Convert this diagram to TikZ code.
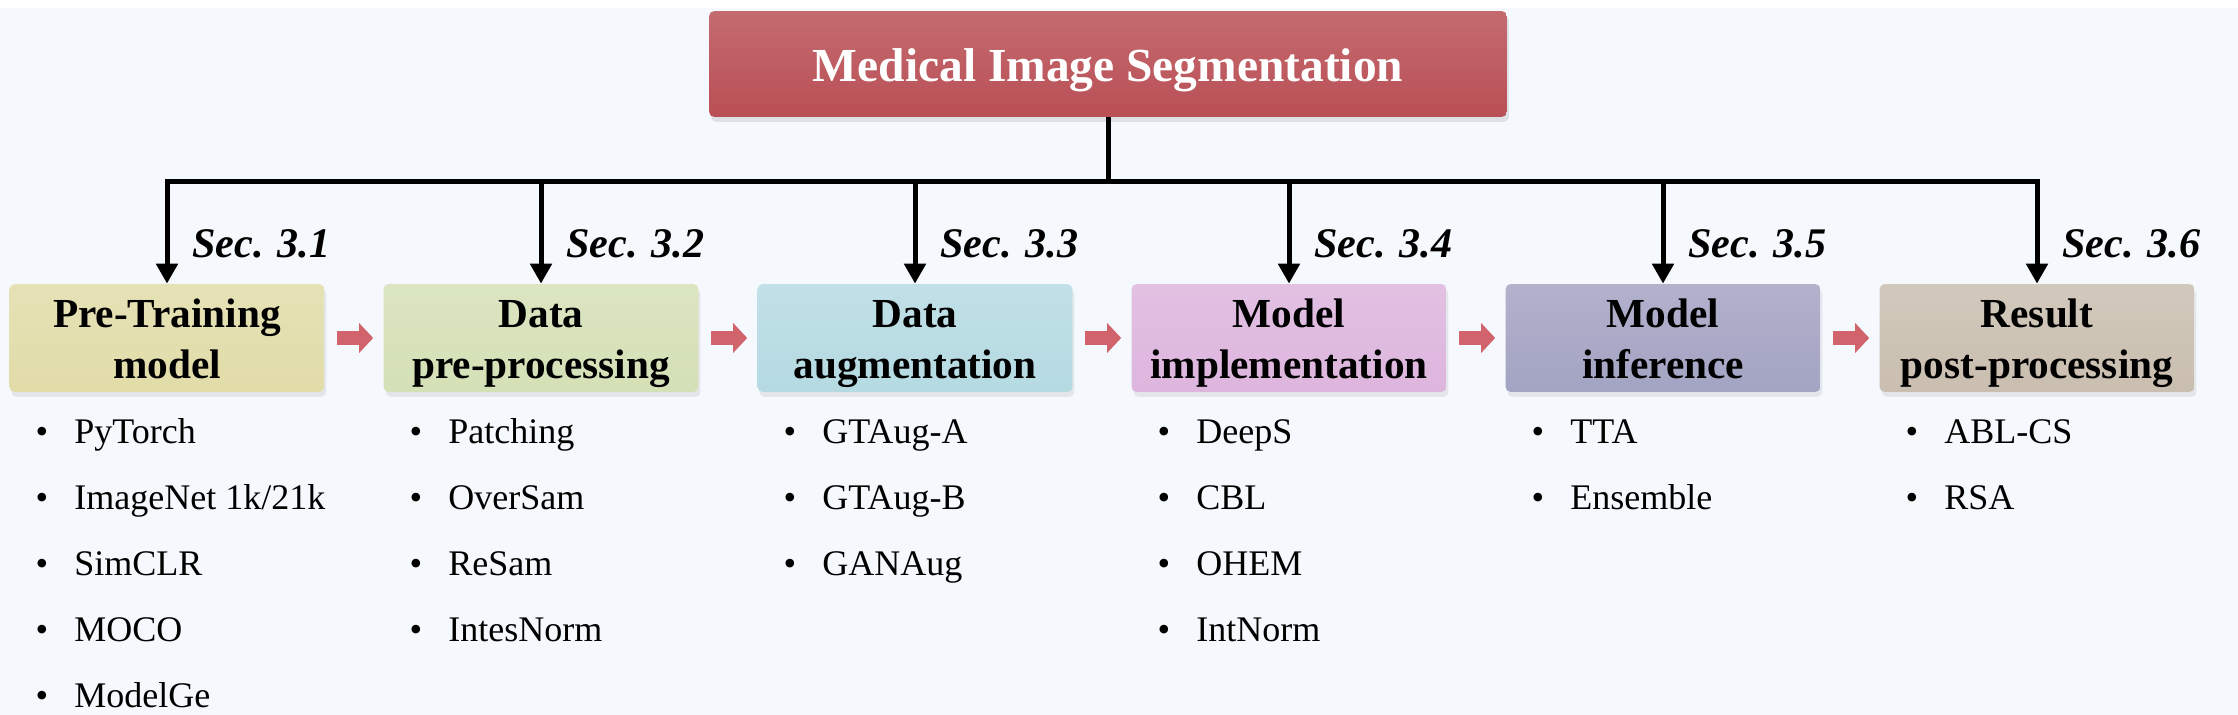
\documentclass[tikz,border=0pt]{standalone}
\usepackage{fontspec}
\setmainfont{Liberation Serif}
\usetikzlibrary{arrows.meta,positioning,calc,shadows}
\definecolor{pagebg}{HTML}{F5F9FD}
\definecolor{rosered}{HTML}{B94F55}
\definecolor{flowred}{HTML}{D0636B}
\definecolor{khaki}{HTML}{E1DCA8}
\definecolor{sage}{HTML}{D4E0B6}
\definecolor{aqua}{HTML}{B5DAE2}
\definecolor{orchid}{HTML}{DDB5DD}
\definecolor{slate}{HTML}{A3A3C3}
\definecolor{sand}{HTML}{C9BEAF}
\newcommand{\tstrut}{\rule{0pt}{24pt}}
\newcommand{\bstrut}{\rule[-6.4pt]{0pt}{6.4pt}}
% one bulleted column under a stage box
\newcommand{\itemlist}[2]{%
  \foreach \txt [count=\n] in {#2}
    \node[item] (#1-\n) at ($(#1.south west)+(26,{51+66*(\n-1)})$)
      {\makebox[22.1pt][l]{\textbullet}\txt};}
\tikzset{
  tint/.style={top color=#1!84!white, middle color=#1, bottom color=#1},
  stage/.style={rounded corners=3pt, minimum width=6.3cm, minimum height=2.16cm,
                inner sep=0pt, align=center, font=\fontsize{23.5}{29}\selectfont\bfseries,
                drop shadow={shadow xshift=0.04cm, shadow yshift=-0.1cm, opacity=0.15}},
  headbox/.style={rounded corners=3pt, minimum width=15.96cm, minimum height=2.12cm,
                  inner sep=0pt, text=white, font=\fontsize{27}{32}\selectfont\bfseries,
                  text height=24pt, text depth=3.6pt,
                  drop shadow={shadow xshift=0.04cm, shadow yshift=-0.1cm, opacity=0.2}},
  trunk/.style={line width=0.1cm},
  drop/.style={line width=0.1cm, -{Triangle[length=0.4cm, width=0.42cm]}},
  flow/.style={line width=0.28cm, color=flowred,
               -{Triangle[length=0.28cm, width=0.58cm]}, shorten <=0.25cm, shorten >=0.2cm}}

\begin{document}
\begin{tikzpicture}[x=0.02cm, y=-0.02cm,
         sec/.style={font=\fontsize{24}{28}\selectfont\bfseries\itshape,
                     anchor=base west, inner sep=0pt},
         item/.style={font=\fontsize{20.5}{24}\selectfont, anchor=base west, inner sep=0pt}]
  \fill[white] (0,0) rectangle (2238,715);
  \fill[pagebg] (0,8) rectangle (2238,715);
  \useasboundingbox (0,0) rectangle (2238,715);

  \node[headbox, tint=rosered] (title) at (1108,64) {Medical Image Segmentation};

  \node[stage, tint=khaki]  (b1) at (167,338)  {\tstrut Pre-Training\\model\bstrut};
  \node[stage, tint=sage]   (b2) at (541,338)  {\tstrut Data\\pre-processing\bstrut};
  \node[stage, tint=aqua]   (b3) at (915,338)  {\tstrut Data\\augmentation\bstrut};
  \node[stage, tint=orchid] (b4) at (1289,338) {\tstrut Model\\implementation\bstrut};
  \node[stage, tint=slate]  (b5) at (1663,338) {\tstrut Model\\inference\bstrut};
  \node[stage, tint=sand]   (b6) at (2037,338) {\tstrut Result\\post-processing\bstrut};

  % tree from the title down to every stage
  \coordinate (bar) at ($(title.south)+(0,64)$);
  \draw[trunk] (title.south) -- (bar);
  \draw[trunk, line cap=rect] (b1.north |- bar) -- (b6.north |- bar);
  \foreach \i in {1,...,6}
    \draw[drop] (b\i.north |- bar) -- (b\i.north);

  \node[sec] (s1) at ($(b1.north)+(25,-26)$) {Sec. 3.1};
  \node[sec] (s2) at ($(b2.north)+(25,-26)$) {Sec. 3.2};
  \node[sec] (s3) at ($(b3.north)+(25,-26)$) {Sec. 3.3};
  \node[sec] (s4) at ($(b4.north)+(25,-26)$) {Sec. 3.4};
  \node[sec] (s5) at ($(b5.north)+(25,-26)$) {Sec. 3.5};
  \node[sec] (s6) at ($(b6.north)+(25,-26)$) {Sec. 3.6};

  \foreach \i/\j in {1/2,2/3,3/4,4/5,5/6}
    \draw[flow] (b\i) -- (b\j);

  \itemlist{b1}{PyTorch, {ImageNet 1k/21k}, SimCLR, MOCO, ModelGe}
  \itemlist{b2}{Patching, OverSam, ReSam, IntesNorm}
  \itemlist{b3}{GTAug-A, GTAug-B, GANAug}
  \itemlist{b4}{DeepS, CBL, OHEM, IntNorm}
  \itemlist{b5}{TTA, Ensemble}
  \itemlist{b6}{ABL-CS, RSA}
\end{tikzpicture}
\end{document}
